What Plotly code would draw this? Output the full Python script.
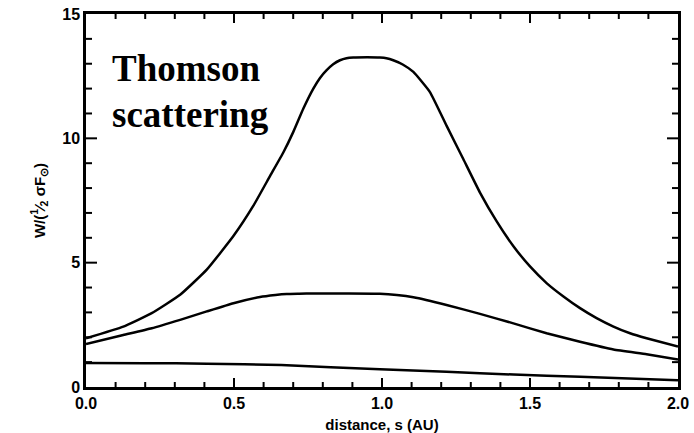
import numpy as np
import plotly.graph_objects as go

# Top curve (strong Thomson scattering peak)
x_top = [0.0, 0.126, 0.222, 0.318, 0.408, 0.498, 0.565, 0.622, 0.667, 0.70, 0.734, 0.768, 0.79, 0.813, 0.835, 0.858, 0.88, 0.903, 0.95, 0.993,
         1.015, 1.038, 1.07, 1.106, 1.162, 1.218, 1.275, 1.331, 1.387, 1.444, 1.5, 1.556, 1.613, 1.669, 1.725, 1.782, 1.838, 1.894, 2.0]
y_top = [1.96, 2.43, 2.97, 3.71, 4.72, 6.07, 7.28, 8.49, 9.44, 10.25, 11.19, 12.0, 12.42, 12.74, 12.98, 13.14, 13.22, 13.25, 13.26, 13.25,
         13.22, 13.14, 12.97, 12.67, 11.86, 10.51, 9.16, 7.82, 6.67, 5.66, 4.85, 4.18, 3.64, 3.17, 2.77, 2.43, 2.16, 1.96, 1.63]

# Middle curve
x_mid = [0.0, 0.126, 0.222, 0.318, 0.408, 0.498, 0.588, 0.64, 0.678, 0.72, 0.768, 0.88, 0.993,
         1.05, 1.106, 1.218, 1.331, 1.444, 1.556, 1.669, 1.782, 1.894, 2.0]
y_mid = [1.73, 2.09, 2.36, 2.70, 3.04, 3.37, 3.62, 3.70, 3.74, 3.75, 3.76, 3.76, 3.75,
         3.70, 3.61, 3.30, 2.94, 2.56, 2.16, 1.82, 1.51, 1.32, 1.11]

# Bottom curve
x_bot = [0.0, 0.2, 0.408, 0.66, 0.993, 1.218, 1.444, 1.669, 2.0]
y_bot = [0.97, 0.96, 0.94, 0.88, 0.71, 0.61, 0.50, 0.41, 0.27]

x_range = [0, 2]
y_range = [0, 15]
x_tick_step = 0.5
x_minor_step = 0.1
y_tick_step = 5
y_minor_step = 1

fig = go.Figure()
for xs, ys in [(x_top, y_top), (x_mid, y_mid), (x_bot, y_bot)]:
    fig.add_trace(go.Scatter(x=xs, y=ys, mode="lines", line=dict(color="black", width=2.5, shape="spline", smoothing=0.4),
                             showlegend=False, hoverinfo="skip"))

tickfont = dict(family="Liberation Sans, Arial, sans-serif", size=16, color="black", weight="bold")
titlefont = dict(family="Liberation Sans, Arial, sans-serif", size=15, color="black", weight="bold")

fig.update_layout(
    xaxis=dict(range=x_range, dtick=x_tick_step, tickformat=".1f", showline=True, linecolor="black", linewidth=2.5,
               mirror=True, ticks="", showgrid=False, zeroline=False, tickfont=tickfont,
               title=dict(text="distance, s (AU)", font=titlefont)),
    yaxis=dict(range=y_range, dtick=y_tick_step, showline=True, linecolor="black", linewidth=2.5,
               mirror=True, ticks="", showgrid=False, zeroline=False, tickfont=tickfont,
               title=dict(text="W/(<sup>1</sup>⁄<sub>2</sub> σF<sub>⊙</sub>)", font=titlefont)),
)

# Inward tick marks on all four sides, placed in data units along the axis, pixel lengths across it
tick_line = dict(color="black", width=2)
n_x_minor = int(round((x_range[1] - x_range[0]) / x_minor_step))
x_major_every = int(round(x_tick_step / x_minor_step))
for i in range(1, n_x_minor):
    v = x_range[0] + i * x_minor_step
    ln = 9 if i % x_major_every == 0 else 5
    fig.add_shape(type="line", xref="x", yref="y domain", x0=v, x1=v, ysizemode="pixel", yanchor=0,
                  y0=0, y1=ln, line=tick_line, layer="above")
    fig.add_shape(type="line", xref="x", yref="y domain", x0=v, x1=v, ysizemode="pixel", yanchor=1,
                  y0=0, y1=-ln, line=tick_line, layer="above")

n_y_minor = int(round((y_range[1] - y_range[0]) / y_minor_step))
y_major_every = int(round(y_tick_step / y_minor_step))
for j in range(1, n_y_minor):
    v = y_range[0] + j * y_minor_step
    ln = 11 if j % y_major_every == 0 else 6
    fig.add_shape(type="line", yref="y", xref="x domain", y0=v, y1=v, xsizemode="pixel", xanchor=0,
                  x0=0, x1=ln, line=tick_line, layer="above")
    fig.add_shape(type="line", yref="y", xref="x domain", y0=v, y1=v, xsizemode="pixel", xanchor=1,
                  x0=0, x1=-ln, line=tick_line, layer="above")

fig.add_annotation(text="<b>Thomson</b>", xref="x", yref="y", x=0.08, y=12.8, xanchor="left", yanchor="middle",
                   showarrow=False, font=dict(family="Liberation Serif, Times New Roman, serif", size=37, color="black"))
fig.add_annotation(text="<b>scattering</b>", xref="x", yref="y", x=0.08, y=10.95, xanchor="left", yanchor="middle",
                   showarrow=False, font=dict(family="Liberation Serif, Times New Roman, serif", size=37, color="black"))

fig.update_layout(template="none", width=694, height=433, margin=dict(l=86, r=16, t=14, b=46),
                  plot_bgcolor="white", paper_bgcolor="white")
fig.write_html("out.html")
